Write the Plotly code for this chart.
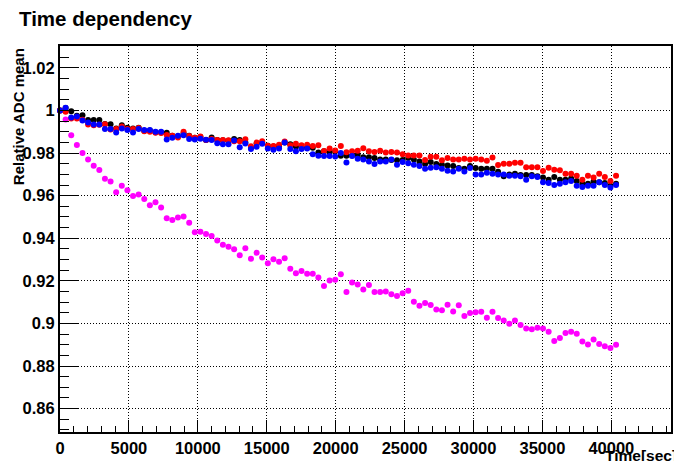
import plotly.graph_objects as go

time_sec = [0, 408, 815, 1223, 1630, 2038, 2445, 2853, 3260, 3668,
            4075, 4483, 4890, 5298, 5705, 6113, 6520, 6928, 7335, 7743,
            8150, 8558, 8965, 9373, 9780, 10188, 10595, 11003, 11410, 11818,
            12225, 12633, 13040, 13448, 13855, 14263, 14670, 15078, 15485, 15893,
            16300, 16708, 17115, 17523, 17930, 18338, 18745, 19153, 19560, 19968,
            20375, 20783, 21190, 21598, 22005, 22413, 22820, 23228, 23635, 24043,
            24450, 24858, 25265, 25673, 26080, 26488, 26895, 27303, 27710, 28118,
            28525, 28933, 29340, 29748, 30155, 30563, 30970, 31378, 31785, 32193,
            32600, 33008, 33415, 33823, 34230, 34638, 35045, 35453, 35860, 36268,
            36675, 37083, 37490, 37898, 38305, 38713, 39120, 39528, 39935, 40343]

black_vals = [1.0, 1.0012, 0.9997, 0.9975, 0.9978, 0.9956, 0.9955, 0.9955, 0.9937, 0.9936,
              0.9915, 0.9931, 0.9919, 0.9915, 0.9919, 0.9905, 0.9906, 0.9898, 0.9897, 0.9895,
              0.9882, 0.9878, 0.9892, 0.9881, 0.9872, 0.9875, 0.9862, 0.9873, 0.9862, 0.9860,
              0.9858, 0.9866, 0.9862, 0.9850, 0.9825, 0.9845, 0.9850, 0.9834, 0.9831, 0.9833,
              0.9850, 0.9842, 0.9831, 0.9826, 0.9825, 0.9825, 0.9803, 0.9809, 0.9803, 0.9809,
              0.9788, 0.9788, 0.9789, 0.9792, 0.9780, 0.9780, 0.9777, 0.9770, 0.9770, 0.9767,
              0.9766, 0.9767, 0.9777, 0.9770, 0.9761, 0.9749, 0.9758, 0.9749, 0.9745, 0.9742,
              0.9739, 0.9730, 0.9727, 0.9739, 0.9730, 0.9727, 0.9727, 0.9727, 0.9712, 0.9691,
              0.9700, 0.9703, 0.9697, 0.9697, 0.9697, 0.9691, 0.9685, 0.9675, 0.9688, 0.9675,
              0.9675, 0.9681, 0.9669, 0.9656, 0.9656, 0.9666, 0.9663, 0.9660, 0.9647, 0.9656]

red_vals = [1.0, 0.9994, 0.9963, 0.9963, 0.9957, 0.9934, 0.9931, 0.9933, 0.9936, 0.9911,
            0.9913, 0.9925, 0.9913, 0.9913, 0.9918, 0.9903, 0.9900, 0.9895, 0.9894, 0.9885,
            0.9881, 0.9873, 0.9900, 0.9880, 0.9872, 0.9878, 0.9861, 0.9866, 0.9862, 0.9862,
            0.9860, 0.9856, 0.9856, 0.9865, 0.9832, 0.9850, 0.9856, 0.9834, 0.9833, 0.9839,
            0.9855, 0.9837, 0.9844, 0.9837, 0.9839, 0.9833, 0.9837, 0.9810, 0.9822, 0.9812,
            0.9833, 0.9804, 0.9809, 0.9811, 0.9823, 0.9809, 0.9805, 0.9811, 0.9803, 0.9805,
            0.9803, 0.9794, 0.9789, 0.9789, 0.9789, 0.9767, 0.9783, 0.9783, 0.9766, 0.9777,
            0.9770, 0.9770, 0.9773, 0.9770, 0.9773, 0.9770, 0.9764, 0.9779, 0.9744, 0.9750,
            0.9750, 0.9755, 0.9755, 0.9734, 0.9734, 0.9734, 0.9716, 0.9731, 0.9722, 0.9719,
            0.9703, 0.9703, 0.9694, 0.9675, 0.9694, 0.9685, 0.9703, 0.9688, 0.9669, 0.9694]

blue_vals = [1.0, 1.0013, 0.9967, 0.9972, 0.9953, 0.9944, 0.9934, 0.9934, 0.9913, 0.9913,
             0.9897, 0.9916, 0.9908, 0.9897, 0.9913, 0.9909, 0.9908, 0.9900, 0.9900, 0.9864,
             0.9872, 0.9881, 0.9884, 0.9866, 0.9864, 0.9867, 0.9863, 0.9862, 0.9846, 0.9841,
             0.9842, 0.9859, 0.9828, 0.9845, 0.9819, 0.9830, 0.9844, 0.9822, 0.9816, 0.9822,
             0.9850, 0.9819, 0.9809, 0.9819, 0.9822, 0.9795, 0.9788, 0.9786, 0.9786, 0.9784,
             0.9800, 0.9756, 0.9786, 0.9773, 0.9770, 0.9761, 0.9749, 0.9761, 0.9761, 0.9770,
             0.9745, 0.9758, 0.9752, 0.9745, 0.9739, 0.9727, 0.9731, 0.9733, 0.9727, 0.9717,
             0.9714, 0.9727, 0.9714, 0.9730, 0.9699, 0.9699, 0.9708, 0.9703, 0.9700, 0.9700,
             0.9694, 0.9694, 0.9691, 0.9675, 0.9691, 0.9688, 0.9663, 0.9660, 0.9650, 0.9656,
             0.9663, 0.9669, 0.9647, 0.9641, 0.9647, 0.9647, 0.9663, 0.9650, 0.9638, 0.9650]

magenta_vals = [1.0, 0.9958, 0.9884, 0.9838, 0.9800, 0.9770, 0.9740, 0.9720, 0.9680, 0.9667,
                0.9616, 0.9647, 0.9625, 0.9598, 0.9606, 0.9584, 0.9555, 0.9569, 0.9544, 0.9494,
                0.9486, 0.9498, 0.9502, 0.9473, 0.9428, 0.9431, 0.9420, 0.9411, 0.9389, 0.9370,
                0.9360, 0.9348, 0.9320, 0.9353, 0.9304, 0.9332, 0.9310, 0.9283, 0.9301, 0.9290,
                0.9306, 0.9257, 0.9236, 0.9246, 0.9233, 0.9233, 0.9216, 0.9176, 0.9202, 0.9205,
                0.9231, 0.9148, 0.9192, 0.9183, 0.9159, 0.9181, 0.9148, 0.9148, 0.9150, 0.9137,
                0.9129, 0.9142, 0.9153, 0.9102, 0.9083, 0.9096, 0.9087, 0.9065, 0.9062, 0.9088,
                0.9056, 0.9085, 0.9035, 0.9049, 0.9052, 0.9055, 0.9027, 0.9055, 0.9025, 0.9014,
                0.8998, 0.9014, 0.8992, 0.8976, 0.8973, 0.8980, 0.8976, 0.8961, 0.8917, 0.8931,
                0.8955, 0.8961, 0.8951, 0.8915, 0.8901, 0.8925, 0.8903, 0.8893, 0.8884, 0.8900]

series = [
    ("magenta", magenta_vals, "#ff00ff"),
    ("black", black_vals, "#000000"),
    ("red", red_vals, "#ff0000"),
    ("blue", blue_vals, "#0000ff"),
]

FONT = "Liberation Sans, Arial, Helvetica, sans-serif"

fig = go.Figure()
for name, vals, color in series:
    fig.add_trace(go.Scatter(
        x=time_sec, y=vals, mode="markers", name=name,
        marker=dict(color=color, size=6, line=dict(width=0)),
        cliponaxis=False, showlegend=False,
    ))

axis_common = dict(
    showline=True, linewidth=2, linecolor="black", mirror=True,
    ticks="inside", tickcolor="black", tickwidth=1,
    showgrid=True, gridcolor="black", gridwidth=1, griddash="1px,2px",
    zeroline=False,
    tickfont=dict(family=FONT, size=16.5, color="black", weight="bold"),
)

fig.update_xaxes(
    **axis_common,
    range=[0, 44330], dtick=5000, tick0=0, tickformat="d", ticklen=12,
    minor=dict(ticks="inside", dtick=1000, ticklen=6, tickcolor="black", showgrid=False),
)
fig.update_yaxes(
    **axis_common,
    range=[0.849, 1.0303], dtick=0.02, tick0=0.86, ticklen=18,
    minor=dict(ticks="inside", dtick=0.005, ticklen=9, tickcolor="black", showgrid=False),
)

fig.update_layout(
    width=674, height=461,
    margin=dict(l=60, r=1, t=46, b=29),
    paper_bgcolor="white", plot_bgcolor="white",
    title=dict(text="Time dependency", x=19 / 674, xanchor="left", xref="container",
               y=1 - 19 / 461, yanchor="middle", yref="container",
               font=dict(family=FONT, size=20.5, color="black", weight="bold")),
    annotations=[
        dict(text="Relative ADC mean", textangle=-90, xref="paper", yref="paper",
             x=(18.5 - 60) / 613, y=1.0, xanchor="center", yanchor="top", showarrow=False,
             font=dict(family=FONT, size=15, color="black", weight="bold")),
        dict(text="Time[sec]", xref="paper", yref="paper",
             x=(605 - 60) / 613, y=-(466 - 432) / 386, xanchor="left", yanchor="bottom",
             showarrow=False,
             font=dict(family=FONT, size=15.5, color="black", weight="bold")),
    ],
)

fig.write_html("out.html")
